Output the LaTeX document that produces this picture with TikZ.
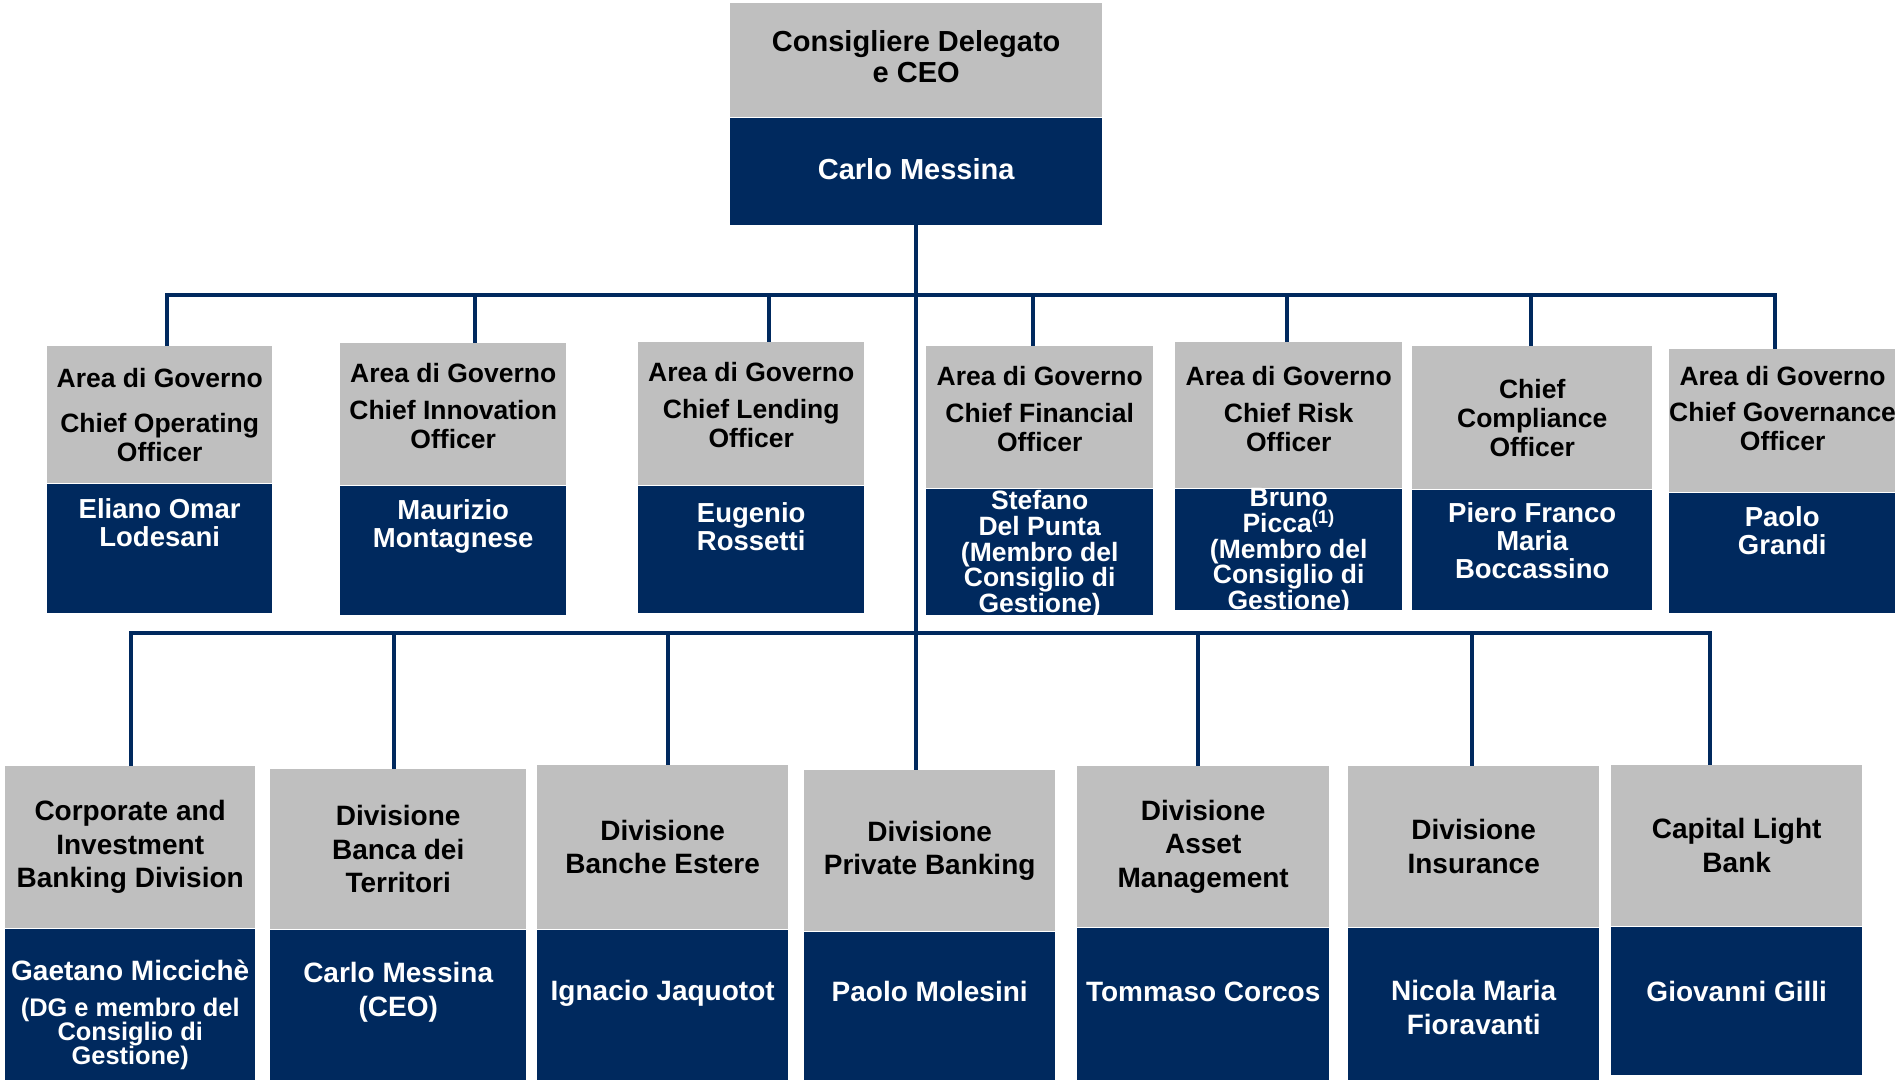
\documentclass[tikz,border=0pt]{standalone}
\usepackage{fontspec}
\setmainfont{Liberation Sans}
\usetikzlibrary{positioning}
\definecolor{boxgray}{RGB}{191,191,191}
\definecolor{isnavy}{RGB}{0,41,94}
\tikzset{
  link/.style={draw=isnavy, line width=4pt},
  rolebox/.style={fill=boxgray, anchor=north west, inner sep=0pt, align=center, font=\bfseries\fontsize{26.5}{29}\selectfont},
  divbox/.style={rolebox, font=\bfseries\fontsize{28}{33.5}\selectfont},
  namebox/.style={fill=isnavy, anchor=north west, inner sep=0pt},
  nametext/.style={inner sep=0pt, align=center, text=white, font=\bfseries\fontsize{27.5}{28}\selectfont},
  longname/.style={nametext, font=\bfseries\fontsize{26.5}{25.7}\selectfont},
  divname/.style={nametext, font=\bfseries\fontsize{28}{34}\selectfont},
  dgnote/.style={nametext, font=\bfseries\fontsize{25.4}{24}\selectfont},
  lift/.style={text depth=#1}
}
\begin{document}
\begin{tikzpicture}[x=1pt, y=-1pt]
  \useasboundingbox (0,0) rectangle (1895,1079);
  % vertice
  \node[rolebox, lift=8pt, minimum width=372pt, minimum height=114pt, font=\bfseries\fontsize{29}{31}\selectfont] (ceoh) at (730,3) {Consigliere Delegato\\e CEO};
  \node[namebox, lift=5pt, minimum width=372pt, minimum height=107pt, text=white, font=\bfseries\fontsize{29}{31}\selectfont] (ceon) at (ceoh.south west) {Carlo Messina};

  % aree di governo
  \node[rolebox, minimum width=225pt, minimum height=137pt] (cooh) at (47,346) {Area di Governo\\[16pt]Chief Operating\\Officer};
  \node[namebox, minimum width=225pt, minimum height=129pt] (coon) at (cooh.south west) {};
  \node[nametext, below=15pt of coon.north] (coot) {Eliano Omar\\Lodesani};

  \node[rolebox, lift=17pt, minimum width=226pt, minimum height=142pt] (cioh) at (340,343) {Area di Governo\\[8pt]Chief Innovation\\Officer};
  \node[namebox, minimum width=226pt, minimum height=129pt] (cion) at (cioh.south west) {};
  \node[nametext, below=14pt of cion.north] (ciot) {Maurizio\\Montagnese};

  \node[rolebox, lift=17pt, minimum width=226pt, minimum height=143pt] (cloh) at (638,342) {Area di Governo\\[8pt]Chief Lending\\Officer};
  \node[namebox, minimum width=226pt, minimum height=127pt] (clon) at (cloh.south west) {};
  \node[nametext, below=17pt of clon.north] (clot) {Eugenio\\Rossetti};

  \node[rolebox, lift=17pt, minimum width=227pt, minimum height=142pt] (cfoh) at (926,346) {Area di Governo\\[8pt]Chief Financial\\Officer};
  \node[namebox, minimum width=227pt, minimum height=126pt] (cfon) at (cfoh.south west) {};
  \node[longname, below=2pt of cfon.north] (cfot) {Stefano\\Del Punta\\(Membro del\\Consiglio di\\Gestione)};

  \node[rolebox, lift=12pt, minimum width=227pt, minimum height=146pt] (croh) at (1175,342) {Area di Governo\\[8pt]Chief Risk\\Officer};
  \node[namebox, minimum width=227pt, minimum height=121pt] (cron) at (croh.south west) {};
  \node[longname, below=0pt of cron.north] (crot) {Bruno\\Picca\textsuperscript{(1)}\\(Membro del\\Consiglio di\\Gestione)};

  \node[rolebox, minimum width=240pt, minimum height=143pt] (ccoh) at (1412,346) {Chief\\Compliance\\Officer};
  \node[namebox, minimum width=240pt, minimum height=120pt] (ccon) at (ccoh.south west) {};
  \node[nametext, below=13pt of ccon.north] (ccot) {Piero Franco\\Maria\\Boccassino};

  \node[rolebox, lift=24pt, minimum width=226pt, minimum height=143pt] (cgoh) at (1669,349) {Area di Governo\\[7pt]Chief Governance\\Officer};
  \node[namebox, minimum width=226pt, minimum height=120pt] (cgon) at (cgoh.south west) {};
  \node[nametext, below=14pt of cgon.north] (cgot) {Paolo\\Grandi};

  % divisioni
  \node[divbox, minimum width=250pt, minimum height=162pt] (cibh) at (5,766) {Corporate and\\Investment\\Banking Division};
  \node[namebox, minimum width=250pt, minimum height=151pt] (cibn) at (cibh.south west) {};
  \node[divname, below=31pt of cibn.north] (cibt) {Gaetano Miccichè};
  \node[dgnote, below=17pt of cibt] (cibd) {(DG e membro del\\Consiglio di\\Gestione)};

  \node[divbox, minimum width=256pt, minimum height=160pt] (bdth) at (270,769) {Divisione\\Banca dei\\Territori};
  \node[namebox, minimum width=256pt, minimum height=150pt] (bdtn) at (bdth.south west) {};
  \node[divname, below=33pt of bdtn.north] (bdtt) {Carlo Messina\\(CEO)};

  \node[divbox, minimum width=251pt, minimum height=164pt] (beh) at (537,765) {Divisione\\Banche Estere};
  \node[namebox, minimum width=251pt, minimum height=150pt] (ben) at (beh.south west) {};
  \node[divname, below=51pt of ben.north] (bet) {Ignacio Jaquotot};

  \node[divbox, minimum width=251pt, minimum height=161pt] (pbh) at (804,770) {Divisione\\Private Banking};
  \node[namebox, minimum width=251pt, minimum height=148pt] (pbn) at (pbh.south west) {};
  \node[divname, below=50pt of pbn.north] (pbt) {Paolo Molesini};

  \node[divbox, minimum width=252pt, minimum height=161pt] (amh) at (1077,766) {Divisione\\Asset\\Management};
  \node[namebox, minimum width=252pt, minimum height=152pt] (amn) at (amh.south west) {};
  \node[divname, below=54pt of amn.north] (amt) {Tommaso Corcos};

  \node[divbox, minimum width=251pt, minimum height=161pt] (insh) at (1348,766) {Divisione\\Insurance};
  \node[namebox, minimum width=251pt, minimum height=152pt] (insn) at (insh.south west) {};
  \node[divname, below=53pt of insn.north] (inst) {Nicola Maria\\Fioravanti};

  \node[divbox, minimum width=251pt, minimum height=161pt] (clbh) at (1611,765) {Capital Light\\Bank};
  \node[namebox, minimum width=251pt, minimum height=148pt] (clbn) at (clbh.south west) {};
  \node[divname, below=55pt of clbn.north] (clbt) {Giovanni Gilli};

  % collegamenti
  \coordinate (ta) at (167,295);
  \coordinate (tb) at (475,295);
  \coordinate (tc) at (769,295);
  \coordinate (td) at (1033,295);
  \coordinate (te) at (1287,295);
  \coordinate (tf) at (1531,295);
  \coordinate (tg) at (1775,295);
  \coordinate (ba) at (131,633);
  \coordinate (bb) at (394,633);
  \coordinate (bc) at (668,633);
  \coordinate (bd) at (1198,633);
  \coordinate (be) at (1472,633);
  \coordinate (bf) at (1710,633);

  \draw[link] (ceon.south) -- (ceon.south |- pbh.north);
  \draw[link] (cooh.north -| ta) -- (ta) -- (tg) -- (tg |- cgoh.north);
  \draw[link] (tb) -- (tb |- cioh.north);
  \draw[link] (tc) -- (tc |- cloh.north);
  \draw[link] (td) -- (td |- cfoh.north);
  \draw[link] (te) -- (te |- croh.north);
  \draw[link] (tf) -- (tf |- ccoh.north);
  \draw[link] (cibh.north -| ba) -- (ba) -- (bf) -- (bf |- clbh.north);
  \draw[link] (bb) -- (bb |- bdth.north);
  \draw[link] (bc) -- (bc |- beh.north);
  \draw[link] (bd) -- (bd |- amh.north);
  \draw[link] (be) -- (be |- insh.north);
\end{tikzpicture}
\end{document}
